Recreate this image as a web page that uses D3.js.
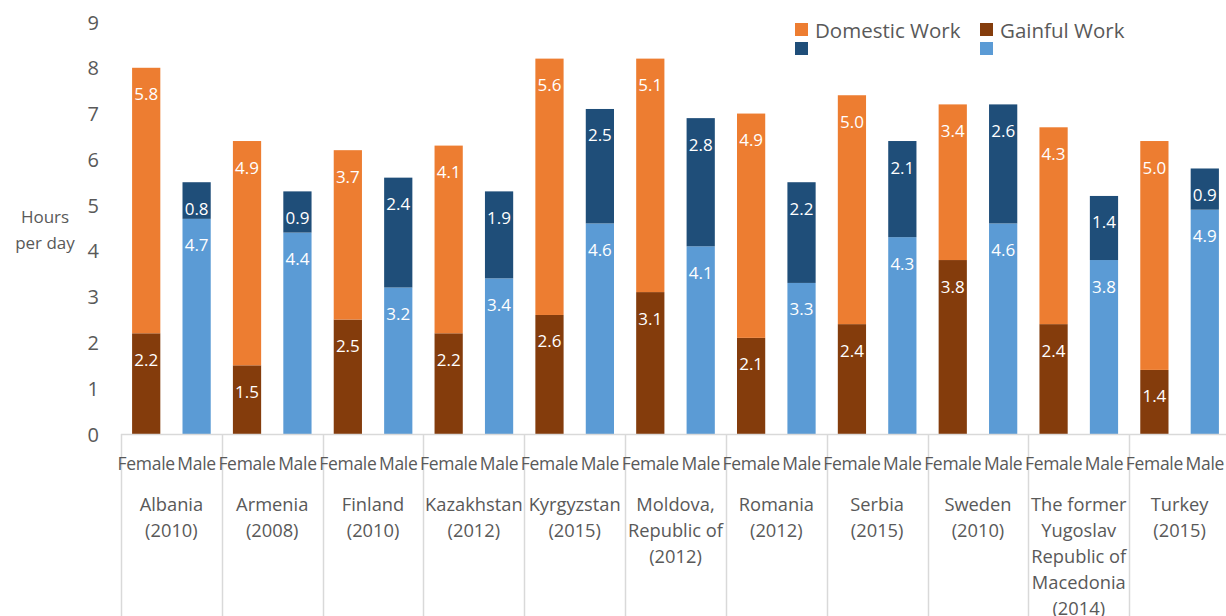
<html>
<head>
<script src="https://d3js.org/d3.v7.min.js"></script>
<style>
  body { margin: 0; background: #fff; }
  text { font-family: "Open Sans", "Liberation Sans", sans-serif; }
</style>
</head>
<body>
<script>
// countries (two or more label lines each)
var countries = [
  ["Albania", "(2010)"],
  ["Armenia", "(2008)"],
  ["Finland", "(2010)"],
  ["Kazakhstan", "(2012)"],
  ["Kyrgyzstan", "(2015)"],
  ["Moldova,", "Republic of", "(2012)"],
  ["Romania", "(2012)"],
  ["Serbia", "(2015)"],
  ["Sweden", "(2010)"],
  ["The former", "Yugoslav", "Republic of", "Macedonia", "(2014)"],
  ["Turkey", "(2015)"]
];
var sexes = ["Female", "Male"];

var femaleGainful  = [2.2, 1.5, 2.5, 2.2, 2.6, 3.1, 2.1, 2.4, 3.8, 2.4, 1.4];
var femaleDomestic = [5.8, 4.9, 3.7, 4.1, 5.6, 5.1, 4.9, 5.0, 3.4, 4.3, 5.0];
var maleGainful    = [4.7, 4.4, 3.2, 3.4, 4.6, 4.1, 3.3, 4.3, 4.6, 3.8, 4.9];
var maleDomestic   = [0.8, 0.9, 2.4, 1.9, 2.5, 2.8, 2.2, 2.1, 2.6, 1.4, 0.9];

var yTicks = [0, 1, 2, 3, 4, 5, 6, 7, 8, 9];

var colors = {
  femaleDomestic: "#ED7D31",
  femaleGainful: "#843C0C",
  maleDomestic: "#1F4E79",
  maleGainful: "#5B9BD5"
};
var textColor = "#595959";

var W = 1226, H = 616;
var svg = d3.select("body").append("svg").attr("width", W).attr("height", H);

var keys = countries.map(function(c, i) { return "c" + i; });
var x0 = d3.scaleBand().domain(keys).range([121, 1230]);
var x1 = d3.scaleBand().domain(sexes).range([0, x0.bandwidth()])
           .paddingInner(0.44).paddingOuter(0.22);
var y = d3.scaleLinear().domain([0, 9]).range([434, 22]);

// y axis labels
svg.append("g").selectAll("text").data(yTicks).join("text")
   .attr("x", 99).attr("y", function(d) { return y(d); })
   .attr("text-anchor", "end").attr("dominant-baseline", "central")
   .attr("font-size", 20).attr("fill", textColor)
   .text(function(d) { return d; });

svg.append("text").attr("x", 45).attr("y", 216).attr("text-anchor", "middle")
   .attr("dominant-baseline", "central").attr("font-size", 17).attr("fill", textColor)
   .text("Hours");
svg.append("text").attr("x", 45).attr("y", 242).attr("text-anchor", "middle")
   .attr("dominant-baseline", "central").attr("font-size", 17).attr("fill", textColor)
   .text("per day");

// segments
var segs = [];
keys.forEach(function(k, i) {
  segs.push({k: k, sex: "Female", y0: 0, y1: femaleGainful[i], v: femaleGainful[i], c: colors.femaleGainful});
  segs.push({k: k, sex: "Female", y0: femaleGainful[i], y1: femaleGainful[i] + femaleDomestic[i], v: femaleDomestic[i], c: colors.femaleDomestic});
  segs.push({k: k, sex: "Male", y0: 0, y1: maleGainful[i], v: maleGainful[i], c: colors.maleGainful});
  segs.push({k: k, sex: "Male", y0: maleGainful[i], y1: maleGainful[i] + maleDomestic[i], v: maleDomestic[i], c: colors.maleDomestic});
});

svg.append("g").selectAll("rect").data(segs).join("rect")
   .attr("x", function(d) { return x0(d.k) + x1(d.sex); })
   .attr("width", x1.bandwidth())
   .attr("y", function(d) { return y(d.y1); })
   .attr("height", function(d) { return y(d.y0) - y(d.y1); })
   .attr("fill", function(d) { return d.c; });

svg.append("g").selectAll("text").data(segs).join("text")
   .attr("x", function(d) { return x0(d.k) + x1(d.sex) + x1.bandwidth() / 2; })
   .attr("y", function(d) { return y(d.y1) + 26; })
   .attr("text-anchor", "middle").attr("dominant-baseline", "central")
   .attr("font-size", 17).attr("fill", "#fff")
   .text(function(d) { return d.v.toFixed(1); });

// x axis line and separators
svg.append("line").attr("x1", 121).attr("x2", W).attr("y1", 434.5).attr("y2", 434.5)
   .attr("stroke", "#D9D9D9").attr("stroke-width", 1.5);
svg.append("g").selectAll("line").data(keys).join("line")
   .attr("x1", function(d) { return Math.round(x0(d)) + 0.5; })
   .attr("x2", function(d) { return Math.round(x0(d)) + 0.5; })
   .attr("y1", 434).attr("y2", H)
   .attr("stroke", "#D9D9D9").attr("stroke-width", 1.5);

// sex labels
var sexLabels = [];
keys.forEach(function(k) { sexes.forEach(function(s) { sexLabels.push({k: k, s: s}); }); });
svg.append("g").selectAll("text").data(sexLabels).join("text")
   .attr("x", function(d) { return x0(d.k) + x1(d.s) + x1.bandwidth() / 2; })
   .attr("y", 463).attr("text-anchor", "middle").attr("dominant-baseline", "central")
   .attr("font-size", 17.5).attr("letter-spacing", -0.3).attr("fill", textColor)
   .text(function(d) { return d.s; });

// country labels
var cg = svg.append("g").selectAll("text").data(keys).join("text")
   .attr("text-anchor", "middle").attr("font-size", 18.3).attr("fill", textColor);
cg.each(function(k, i) {
  var t = d3.select(this);
  countries[i].forEach(function(line, j) {
    t.append("tspan").attr("x", x0(k) + x0.bandwidth() / 2)
     .attr("y", 503 + j * 26).attr("dominant-baseline", "central").text(line);
  });
});

// legend
var legend = [
  {label: "Domestic Work", c: colors.femaleDomestic, x: 795, y: 23},
  {label: "Gainful Work", c: colors.femaleGainful, x: 980, y: 23},
  {label: "", c: colors.maleDomestic, x: 795, y: 42},
  {label: "", c: colors.maleGainful, x: 980, y: 42}
];
var lg = svg.append("g").selectAll("g").data(legend).join("g");
lg.append("rect").attr("x", function(d) { return d.x; }).attr("y", function(d) { return d.y; })
  .attr("width", 13).attr("height", 13).attr("fill", function(d) { return d.c; });
lg.append("text").attr("x", function(d) { return d.x + 20; }).attr("y", function(d) { return d.y + 7; })
  .attr("dominant-baseline", "central").attr("font-size", 20.5).attr("fill", textColor)
  .text(function(d) { return d.label; });
</script>
</body>
</html>
